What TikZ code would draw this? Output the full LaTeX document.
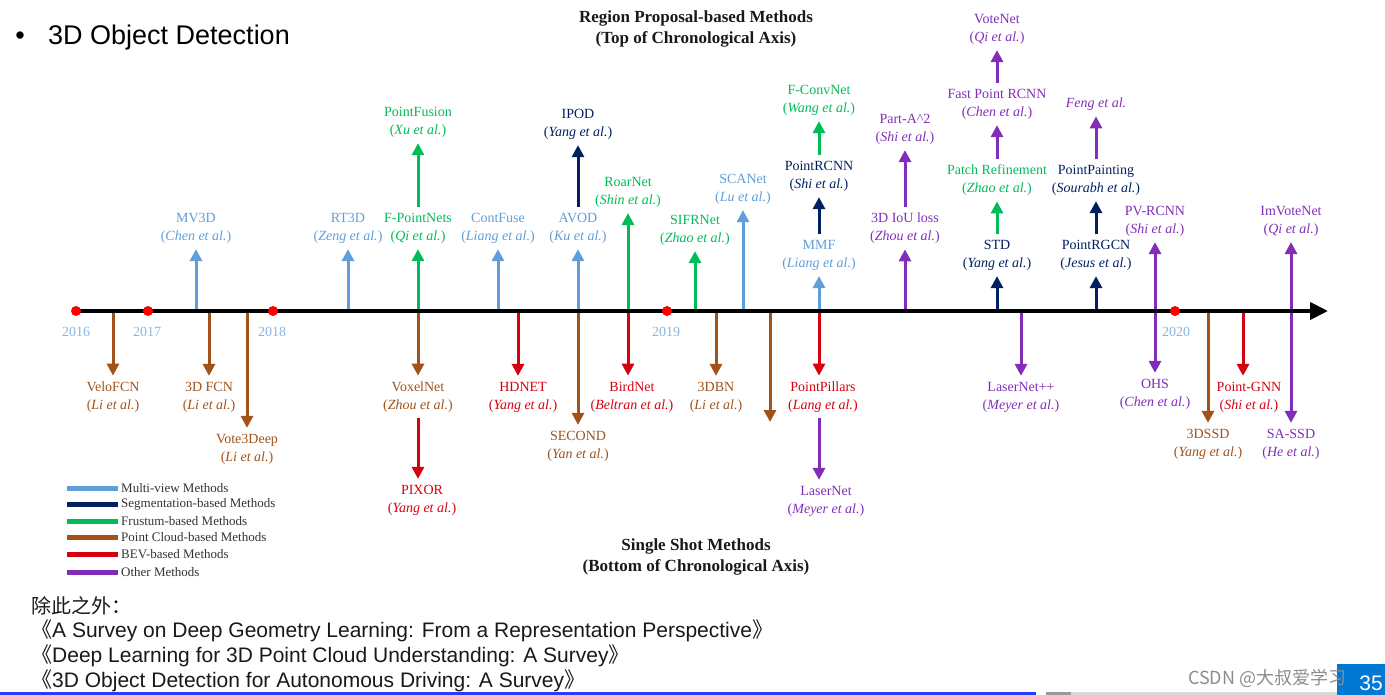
\documentclass[tikz,border=0pt]{standalone}
\usepackage{fontspec}
\setmainfont{Liberation Serif}
\newfontfamily\sansfont{Liberation Sans}
\newfontfamily\cjkfont{Noto Sans CJK SC}
\usetikzlibrary{arrows.meta}
\definecolor{mvblue}{RGB}{95,158,216}
\definecolor{segnavy}{RGB}{0,32,96}
\definecolor{frgreen}{RGB}{0,188,88}
\definecolor{pcbrown}{RGB}{160,82,25}
\definecolor{bevred}{RGB}{215,0,15}
\definecolor{othpurple}{RGB}{130,45,185}
\definecolor{slideblue}{RGB}{0,120,212}
\definecolor{barblue}{RGB}{40,60,255}
\newcommand{\etal}[1]{(\textit{#1 et al.})}

\begin{document}
\begin{tikzpicture}[x=1pt,y=-1pt,
  lbl/.style={align=center,font=\fontsize{14}{18}\selectfont,inner sep=2pt,outer sep=4pt},
  arr/.style={line width=3pt,-{Triangle[width=12pt,length=12pt]}},
  dbl/.style={line width=3pt,{Triangle[width=12pt,length=12pt]}-{Triangle[width=12pt,length=12pt]}},
  dot/.style={circle,fill=red,inner sep=0pt,minimum size=10pt},
  yr/.style={text=mvblue!75,font=\fontsize{14}{16}\selectfont},
  ttl/.style={align=center,text=black!90,font=\fontsize{17}{21}\selectfont\bfseries},
  key/.style={line width=5pt},
  keytxt/.style={anchor=west,text=black!80,font=\fontsize{13}{15}\selectfont,inner sep=0pt},
  slide/.style={anchor=base west,text=black!90,font=\sansfont\fontsize{21}{24}\selectfont,inner sep=0pt}]
\useasboundingbox (0,0) rectangle (1385,695);

\node[anchor=base,font=\sansfont\fontsize{27}{30}\selectfont] (bul) at (20,45) {•};
\node[anchor=base west,font=\sansfont\fontsize{27}{30}\selectfont,inner sep=0pt] (head) at (48,45) {3D Object Detection};

\node[ttl] (rpm) at (696,29) {Region Proposal-based Methods\\(Top of Chronological Axis)};
\node[ttl] (ssm) at (696,557) {Single Shot Methods\\(Bottom of Chronological Axis)};

\coordinate (ax) at (0,311);\coordinate (axstart) at (76,311);\coordinate (axend) at (1328,311);

%top of axis
\node[lbl,mvblue] (mv3d) at (196,228) {MV3D\\\etal{Chen}};
\node[lbl,mvblue] (rt3d) at (348,228) {RT3D\\\etal{Zeng}};
\node[lbl,frgreen] (fpointnets) at (418,228) {F-PointNets\\\etal{Qi}};
\node[lbl,frgreen] (pointfusion) at (418,122) {PointFusion\\\etal{Xu}};
\node[lbl,mvblue] (contfuse) at (498,228) {ContFuse\\\etal{Liang}};
\node[lbl,mvblue] (avod) at (578,228) {AVOD\\\etal{Ku}};
\node[lbl,segnavy] (ipod) at (578,124) {IPOD\\\etal{Yang}};
\node[lbl,frgreen] (roarnet) at (628,192) {RoarNet\\\etal{Shin}};
\node[lbl,frgreen] (sifrnet) at (695,230) {SIFRNet\\\etal{Zhao}};
\node[lbl,mvblue] (scanet) at (743,189) {SCANet\\\etal{Lu}};
\node[lbl,mvblue] (mmf) at (819,255) {MMF\\\etal{Liang}};
\node[lbl,segnavy] (pointrcnn) at (819,176) {PointRCNN\\\etal{Shi}};
\node[lbl,frgreen] (fconvnet) at (819,100) {F-ConvNet\\\etal{Wang}};
\node[lbl,othpurple] (iouloss) at (905,228) {3D IoU loss\\\etal{Zhou}};
\node[lbl,othpurple] (parta2) at (905,129) {Part-A\textasciicircum2\\\etal{Shi}};
\node[lbl,segnavy] (std) at (997,255) {STD\\\etal{Yang}};
\node[lbl,frgreen] (patchref) at (997,180) {Patch Refinement\\\etal{Zhao}};
\node[lbl,othpurple] (fastpointrcnn) at (997,104) {Fast Point RCNN\\\etal{Chen}};
\node[lbl,othpurple] (votenet) at (997,29) {VoteNet\\\etal{Qi}};
\node[lbl,segnavy] (pointrgcn) at (1096,255) {PointRGCN\\\etal{Jesus}};
\node[lbl,segnavy] (pointpainting) at (1096,180) {PointPainting\\\etal{Sourabh}};
\node[lbl,othpurple] (feng) at (1096,104) {\textit{Feng et al.}};
\node[lbl,othpurple] (pvrcnn) at (1155,221) {PV-RCNN\\\etal{Shi}};
\node[lbl,othpurple] (imvotenet) at (1291,221) {ImVoteNet\\\etal{Qi}};

\draw[arr,mvblue] (mv3d|-ax) to (mv3d);\draw[arr,mvblue] (rt3d|-ax) to (rt3d);
\draw[arr,frgreen] (fpointnets|-ax) to (fpointnets);\draw[arr,frgreen] (fpointnets) to (pointfusion);
\draw[arr,mvblue] (contfuse|-ax) to (contfuse);
\draw[arr,mvblue] (avod|-ax) to (avod);\draw[arr,segnavy] (avod) to (ipod);
\draw[arr,frgreen] (roarnet|-ax) to (roarnet);\draw[arr,frgreen] (sifrnet|-ax) to (sifrnet);
\draw[arr,mvblue] (scanet|-ax) to (scanet);
\draw[arr,mvblue] (mmf|-ax) to (mmf);\draw[arr,segnavy] (mmf) to (pointrcnn);\draw[arr,frgreen] (pointrcnn) to (fconvnet);
\draw[arr,othpurple] (iouloss|-ax) to (iouloss);\draw[arr,othpurple] (iouloss) to (parta2);
\draw[arr,segnavy] (std|-ax) to (std);\draw[arr,frgreen] (std) to (patchref);
\draw[arr,othpurple] (patchref) to (fastpointrcnn);\draw[arr,othpurple] (fastpointrcnn) to (votenet);
\draw[arr,segnavy] (pointrgcn|-ax) to (pointrgcn);\draw[arr,segnavy] (pointrgcn) to (pointpainting);
\draw[arr,othpurple] (pointpainting) to (feng);

%bottom of axis
\node[lbl,pcbrown] (velofcn) at (113,397) {VeloFCN\\\etal{Li}};
\node[lbl,pcbrown] (fcn3d) at (209,397) {3D FCN\\\etal{Li}};
\node[lbl,pcbrown] (vote3deep) at (247,449) {Vote3Deep\\\etal{Li}};
\node[lbl,pcbrown] (voxelnet) at (418,397) {VoxelNet\\\etal{Zhou}};
\node[lbl,bevred] (pixor) at (422,500) {PIXOR\\\etal{Yang}};
\node[lbl,bevred] (hdnet) at (523,397) {HDNET\\\etal{Yang}};
\node[lbl,pcbrown] (second) at (578,446) {SECOND\\\etal{Yan}};
\node[lbl,bevred] (birdnet) at (632,397) {BirdNet\\\etal{Beltran}};
\node[lbl,pcbrown] (dbn3) at (716,397) {3DBN\\\etal{Li}};
\node[lbl,bevred] (pointpillars) at (823,397) {PointPillars\\\etal{Lang}};
\node[lbl,othpurple] (lasernet) at (826,501) {LaserNet\\\etal{Meyer}};
\node[lbl,othpurple] (lasernetpp) at (1021,397) {LaserNet++\\\etal{Meyer}};
\node[lbl,othpurple] (ohs) at (1155,394) {OHS\\\etal{Chen}};
\node[lbl,pcbrown] (dssd3) at (1208,444) {3DSSD\\\etal{Yang}};
\node[lbl,bevred] (pointgnn) at (1249,397) {Point-GNN\\\etal{Shi}};
\node[lbl,othpurple] (sassd) at (1291,444) {SA-SSD\\\etal{He}};

\coordinate (hd) at (518,311);\coordinate (bn) at (628,311);\coordinate (pp) at (819,311);
\coordinate (gnn) at (1243,311);\coordinate (nolbl) at (770,422);

\draw[arr,pcbrown] (velofcn|-ax) to (velofcn);\draw[arr,pcbrown] (fcn3d|-ax) to (fcn3d);
\draw[arr,pcbrown] (vote3deep|-ax) to (vote3deep);
\draw[arr,pcbrown] (voxelnet|-ax) to (voxelnet);\draw[arr,bevred] (voxelnet.south) to (voxelnet.south|-pixor.north);
\draw[arr,bevred] (hd) to (hd|-hdnet.north);\draw[arr,pcbrown] (second|-ax) to (second);
\draw[arr,bevred] (bn) to (bn|-birdnet.north);\draw[arr,pcbrown] (dbn3|-ax) to (dbn3);
\draw[arr,pcbrown] (nolbl|-ax) to (nolbl);
\draw[arr,bevred] (pp) to (pp|-pointpillars.north);\draw[arr,othpurple] (pp|-pointpillars.south) to (pp|-lasernet.north);
\draw[arr,othpurple] (lasernetpp|-ax) to (lasernetpp);
\draw[arr,pcbrown] (dssd3|-ax) to (dssd3);\draw[arr,bevred] (gnn) to (gnn|-pointgnn.north);
\draw[dbl,othpurple] (pvrcnn) to (ohs);\draw[dbl,othpurple] (imvotenet) to (sassd);

%axis
\draw[line width=4pt,-{Triangle[width=17pt,length=18pt]}] (axstart) to (axend);
\node[dot] (d2016) at (76,311) {};\node[dot] (d2017) at (148,311) {};\node[dot] (d2018) at (273,311) {};
\node[dot] (d2019) at (667,311) {};\node[dot] (d2020) at (1175,311) {};
\node[yr] (y2016) at (76,332) {2016};\node[yr] (y2017) at (147,332) {2017};\node[yr] (y2018) at (272,332) {2018};
\node[yr] (y2019) at (666,332) {2019};\node[yr] (y2020) at (1176,332) {2020};

%legend
\draw[key,mvblue] (67,488) to (118,488);\node[keytxt] (k1) at (121,488) {Multi-view Methods};
\draw[key,segnavy] (67,504) to (118,504);\node[keytxt] (k2) at (121,504) {Segmentation-based Methods};
\draw[key,frgreen] (67,521) to (118,521);\node[keytxt] (k3) at (121,521) {Frustum-based Methods};
\draw[key,pcbrown] (67,537) to (118,537);\node[keytxt] (k4) at (121,537) {Point Cloud-based Methods};
\draw[key,bevred] (67,554) to (118,554);\node[keytxt] (k5) at (121,554) {BEV-based Methods};
\draw[key,othpurple] (67,572) to (118,572);\node[keytxt] (k6) at (121,572) {Other Methods};

%slide text
\node[slide,font=\cjkfont\fontsize{20}{24}\selectfont] (besides) at (31,613) {除此之外：};
\node[slide] (ref1) at (31,637) {{\cjkfont 《}A Survey on Deep Geometry Learning: From a Representation Perspective{\cjkfont 》}};
\node[slide] (ref2) at (31,662) {{\cjkfont 《}Deep Learning for 3D Point Cloud Understanding: A Survey{\cjkfont 》}};
\node[slide] (ref3) at (31,687) {{\cjkfont 《}3D Object Detection for Autonomous Driving: A Survey{\cjkfont 》}};

\fill[barblue] (0,692) rectangle (1036,695);\fill[black!15] (1046,692) rectangle (1337,695);\fill[black!40] (1046,692) rectangle (1071,695);
\fill[slideblue] (1337,664) rectangle (1385,695);
\node[anchor=base,text=white,font=\sansfont\fontsize{21}{24}\selectfont,inner sep=0pt] (page) at (1371,690) {35};
\node[anchor=base west,text=black!45,font=\cjkfont\fontsize{18}{20}\selectfont,inner sep=0pt] (wm) at (1188,684) {CSDN @大叔爱学习};
\end{tikzpicture}
\end{document}
